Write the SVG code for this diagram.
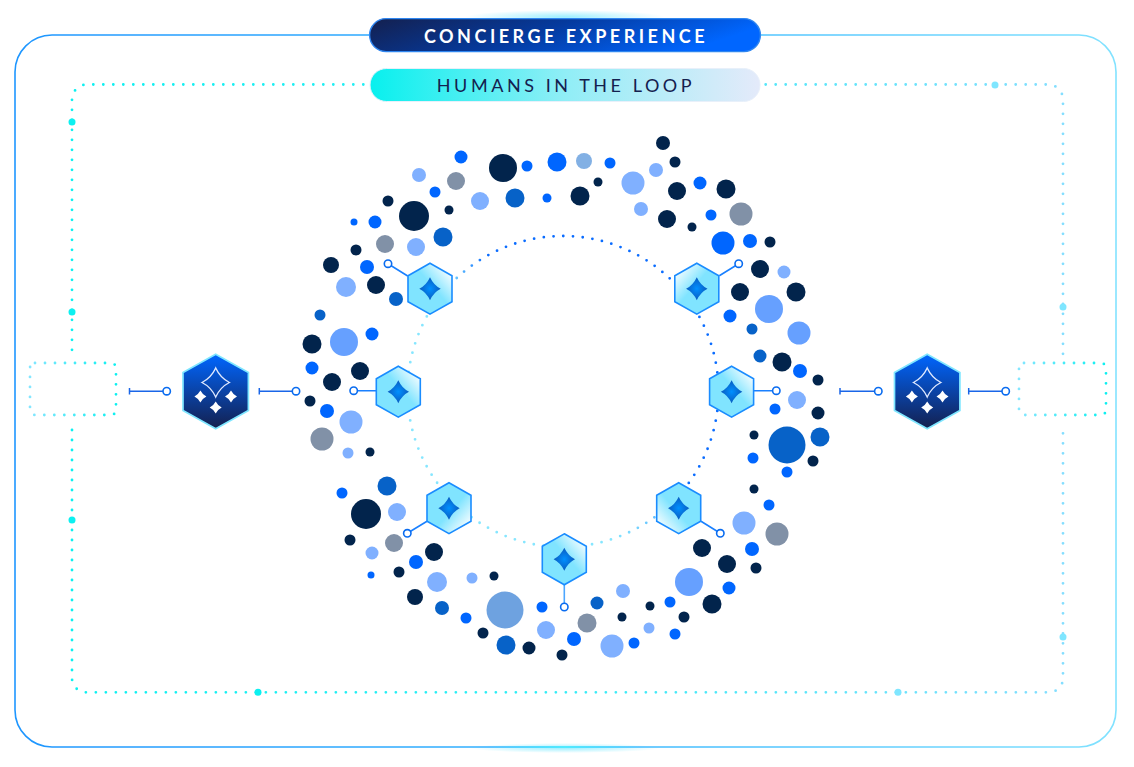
<svg xmlns="http://www.w3.org/2000/svg" width="1134" height="767" viewBox="0 0 1134 767">
<style>
.n{fill:#02244c}.b{fill:#0066ff}.m{fill:#0762c8}.l{fill:#80b0ff}.g{fill:#8191a7}.p{fill:#66a0ff}
.stem{fill:none;stroke:#1a80ff;stroke-width:1.6}
.end{fill:#fff;stroke:#0a6cf0;stroke-width:1.6}
.lnk{fill:none;stroke:#1a66e8;stroke-width:1.5}
.shx{stroke:#1a8cff;stroke-width:1.6}
.lbl{font-family:Lato,"Liberation Sans",sans-serif;font-size:18px;text-anchor:middle}
.dl{fill:none;stroke:url(#dotG);stroke-width:2.8;stroke-linecap:round;stroke-dasharray:0 10}
.bx{fill:none;stroke:url(#boxG);stroke-width:2.8;stroke-linecap:round;stroke-dasharray:0 10}
</style>
<defs>
<linearGradient id="frameG" gradientUnits="userSpaceOnUse" x1="15" y1="0" x2="1116" y2="0"><stop offset="0" stop-color="#1e96ff"/><stop offset=".5" stop-color="#35b4ff"/><stop offset="1" stop-color="#82e2ff"/></linearGradient>
<linearGradient id="dotG" gradientUnits="userSpaceOnUse" x1="72" y1="0" x2="1063" y2="0"><stop offset="0" stop-color="#0cf0f0"/><stop offset=".45" stop-color="#2fedf5"/><stop offset="1" stop-color="#84deff"/></linearGradient>
<linearGradient id="boxG" x1="0" y1="0" x2="1" y2="0"><stop offset="0" stop-color="#84e6ff"/><stop offset="1" stop-color="#0cf0f0"/></linearGradient>
<linearGradient id="ringG" gradientUnits="userSpaceOnUse" x1="450" y1="480" x2="620" y2="340"><stop offset=".4" stop-color="#86e6ff"/><stop offset=".6" stop-color="#66c4ff"/><stop offset=".78" stop-color="#0a6cff"/></linearGradient>
<linearGradient id="pill1" x1="0" y1="0" x2="1" y2="0.25"><stop offset="0" stop-color="#14204e"/><stop offset=".5" stop-color="#053a9e"/><stop offset="1" stop-color="#0066ff"/></linearGradient>
<linearGradient id="pill2" x1="0" y1="0" x2="1" y2="0"><stop offset="0" stop-color="#08f0ee"/><stop offset=".5" stop-color="#90eef6"/><stop offset="1" stop-color="#e4eafa"/></linearGradient>
<radialGradient id="glow"><stop offset="0" stop-color="#7ceaff" stop-opacity=".75"/><stop offset="1" stop-color="#7ceaff" stop-opacity="0"/></radialGradient>
<linearGradient id="glowL" gradientUnits="userSpaceOnUse" x1="490" y1="0" x2="640" y2="0"><stop offset="0" stop-color="#50eaff" stop-opacity="0"/><stop offset=".5" stop-color="#50eaff"/><stop offset="1" stop-color="#50eaff" stop-opacity="0"/></linearGradient>
<linearGradient id="bigG" x1="0" y1="0" x2="0" y2="1"><stop offset="0" stop-color="#0066ff"/><stop offset="1" stop-color="#14204e"/></linearGradient>
<linearGradient id="hA" x1="0" y1="1" x2="1" y2="0"><stop offset=".55" stop-color="#80e4ff"/><stop offset=".92" stop-color="#fff"/></linearGradient>
<linearGradient id="hB" x1="1" y1="1" x2="0" y2="0"><stop offset=".55" stop-color="#80e4ff"/><stop offset=".92" stop-color="#fff"/></linearGradient>
<linearGradient id="hC" x1="0" y1="0" x2="1" y2="1"><stop offset=".55" stop-color="#80e4ff"/><stop offset=".92" stop-color="#fff"/></linearGradient>
<linearGradient id="hD" x1="1" y1="0" x2="0" y2="1"><stop offset=".55" stop-color="#80e4ff"/><stop offset=".92" stop-color="#fff"/></linearGradient>
<radialGradient id="starG"><stop offset="0" stop-color="#0090ff"/><stop offset="1" stop-color="#0a5cc0"/></radialGradient>
<path id="sh" d="M0-25.5L22-13V13L0 25.5L-22 13V-13Z"/>
<path id="ss" fill="url(#starG)" d="M0-11.5Q3.6-3.6 10.7 0Q3.6 3.6 0 11.5Q-3.6 3.6-10.7 0Q-3.6-3.6 0-11.5Z"/>
<g id="big">
<path d="M0-37.3L32.7-19V19L0 37.3L-32.7 19V-19Z" fill="url(#bigG)" stroke="#7fe6ff" stroke-width="1.7"/>
<path d="M0-23.5Q4.6-13.6 13.7-9Q4.6-4.4 0 5.5Q-4.6-4.4-13.7-9Q-4.6-13.6 0-23.5Z" fill="none" stroke="#dfe9ff" stroke-width="1.4"/>
<path fill="#fff" d="M-15.3-1Q-13.2 3.1-9.3 5Q-13.2 6.9-15.3 11Q-17.4 6.9-21.3 5Q-17.4 3.1-15.3-1Z"/>
<path fill="#fff" d="M15.3-1Q17.4 3.1 21.3 5Q17.4 6.9 15.3 11Q13.2 6.9 9.3 5Q13.2 3.1 15.3-1Z"/>
<path fill="#fff" d="M0 10Q2.1 14.1 6 16Q2.1 17.9 0 22Q-2.1 17.9-6 16Q-2.1 14.1 0 10Z"/>
</g>
</defs>
<rect width="1134" height="767" fill="#fff"/>

<ellipse cx="565" cy="17" rx="100" ry="7" fill="url(#glow)"/>
<ellipse cx="565" cy="748" rx="95" ry="5" fill="url(#glow)"/>

<g id="connectors">
<path id="frame" d="M369 35H52A37 37 0 0 0 15 72V710A37 37 0 0 0 52 747H1079A37 37 0 0 0 1116 710V72A37 37 0 0 0 1079 35H761" fill="none" stroke="url(#frameG)" stroke-width="1.6"/>
<path d="M490 747H640" fill="none" stroke="url(#glowL)" stroke-width="1.8"/>
<path class="dl" d="M363.3 84.5H87A15 15 0 0 0 72 100V352.3"/>
<path class="dl" d="M72 430V678A14 14 0 0 0 86 692.3H1049A14 14 0 0 0 1063 678V428.3"/>
<path class="dl" d="M765.7 84.5H1048A15 15 0 0 1 1063 100V356"/>
<g fill="#0cf0f0"><circle cx="72" cy="122" r="3.5"/><circle cx="72" cy="312" r="3.5"/><circle cx="72" cy="520" r="3.5"/><circle cx="258" cy="692.3" r="3.5"/></g>
<g fill="#7fe6ff"><circle cx="898" cy="692.3" r="3.5"/><circle cx="1063" cy="637" r="3.5"/><circle cx="1063" cy="307" r="3.5"/><circle cx="995" cy="85" r="3.5"/></g>
<circle cx="563" cy="391.5" r="155.5" fill="none" stroke="url(#ringG)" stroke-width="2.8" stroke-linecap="round" stroke-dasharray="0 9.77"/>
<path class="stem" d="M407.7 276L388 263.7M719.3 275.7L738.7 263.7M376 390.7H353.7M753.7 390.7H776.3M427 521.3L407.3 533.3M701 521.3L720.3 533.3"/>
<path class="stem" style="stroke:#4da6ff" d="M564.3 585V607"/>
<path class="lnk" d="M129.5 388V394.5M129.5 391.2H163M259.3 388V394.5M259.3 391.2H292.5M840 388V394.5M840 391.2H874.8M968.7 388V394.5M968.7 391.2H1002"/>
<g class="end"><circle cx="388" cy="263.7" r="3.7"/><circle cx="738.7" cy="263.7" r="3.7"/><circle cx="353.7" cy="390.7" r="3.7"/><circle cx="776.3" cy="390.7" r="3.7"/><circle cx="407.3" cy="533.3" r="3.7"/><circle cx="720.3" cy="533.3" r="3.7"/><circle cx="564.3" cy="607" r="3.7"/><circle cx="166.7" cy="391.2" r="3.7"/><circle cx="296" cy="391.2" r="3.7"/><circle cx="878.3" cy="391.2" r="3.7"/><circle cx="1005.7" cy="391.2" r="3.7"/></g>
</g>

<g id="dots">
<g class="n">
<circle cx="503" cy="168" r="14"/><circle cx="388" cy="201" r="5.5"/><circle cx="414" cy="216" r="15"/><circle cx="449" cy="210" r="4.5"/><circle cx="356" cy="250" r="5.5"/><circle cx="331" cy="265" r="8"/><circle cx="376" cy="285" r="9"/>
<circle cx="663" cy="143" r="7"/><circle cx="675" cy="162" r="5.5"/><circle cx="598" cy="182" r="4.5"/><circle cx="677" cy="191" r="9"/><circle cx="726" cy="189" r="9.5"/><circle cx="580" cy="196" r="9.5"/><circle cx="667" cy="219" r="9"/><circle cx="692" cy="227" r="4.5"/><circle cx="770" cy="242" r="5.5"/><circle cx="760" cy="269" r="9"/><circle cx="740" cy="292" r="9"/><circle cx="796" cy="292" r="9.5"/>
<circle cx="782" cy="362" r="9.5"/><circle cx="818" cy="380" r="5.5"/><circle cx="818" cy="413" r="6.5"/><circle cx="754" cy="435" r="4.5"/><circle cx="813" cy="461" r="5.5"/><circle cx="754" cy="489" r="4.5"/><circle cx="702" cy="548" r="9"/><circle cx="727" cy="564" r="9"/><circle cx="756" cy="568" r="5.5"/><circle cx="712" cy="604" r="9.5"/><circle cx="650" cy="606" r="4.5"/><circle cx="684" cy="617" r="5.5"/><circle cx="622" cy="617" r="4.5"/><circle cx="562" cy="655" r="5.5"/>
<circle cx="312" cy="344" r="9.5"/><circle cx="360" cy="371" r="9"/><circle cx="332" cy="382" r="9"/><circle cx="310" cy="401" r="5.5"/><circle cx="370" cy="452" r="4.5"/><circle cx="366" cy="514" r="15"/><circle cx="350" cy="540" r="5.5"/><circle cx="434" cy="552" r="9"/><circle cx="399" cy="572" r="5.5"/><circle cx="494" cy="576" r="4.5"/><circle cx="415" cy="597" r="8"/><circle cx="483" cy="633" r="5.5"/><circle cx="529" cy="648" r="6.5"/>
</g>
<g class="b">
<circle cx="461" cy="157" r="6.5"/><circle cx="527" cy="166" r="5.5"/><circle cx="557" cy="162" r="9.5"/><circle cx="435" cy="192" r="5.5"/><circle cx="547" cy="198" r="4.5"/><circle cx="354" cy="222" r="3.5"/><circle cx="375" cy="222" r="6.5"/><circle cx="367" cy="267" r="7"/>
<circle cx="610" cy="163" r="5.5"/><circle cx="700" cy="183" r="6.5"/><circle cx="711" cy="215" r="5.5"/><circle cx="723" cy="243" r="11.5"/><circle cx="750" cy="241" r="7"/><circle cx="730" cy="316" r="6.5"/>
<circle cx="800" cy="371" r="7"/><circle cx="775" cy="409" r="5.5"/><circle cx="753" cy="458" r="5.5"/><circle cx="787" cy="472" r="5.5"/><circle cx="769" cy="505" r="5.5"/><circle cx="752" cy="549" r="7"/><circle cx="729" cy="588" r="6.5"/><circle cx="670" cy="602" r="5.5"/><circle cx="675" cy="634" r="5.5"/><circle cx="574" cy="639" r="7"/><circle cx="634" cy="643" r="5.5"/>
<circle cx="372" cy="334" r="6.5"/><circle cx="312" cy="368" r="6.5"/><circle cx="327" cy="411" r="7"/><circle cx="342" cy="493" r="5.5"/><circle cx="416" cy="562" r="7"/><circle cx="371" cy="575" r="3.5"/><circle cx="466" cy="618" r="5.5"/><circle cx="542" cy="607" r="5.5"/>
</g>
<g class="m">
<circle cx="515" cy="198" r="9.5"/><circle cx="443" cy="237" r="9.5"/><circle cx="396" cy="299" r="7"/><circle cx="320" cy="315" r="5.5"/><circle cx="752" cy="329" r="5.5"/><circle cx="760" cy="356" r="6.5"/><circle cx="787" cy="445" r="18.5"/><circle cx="820" cy="437" r="9.5"/><circle cx="597" cy="603" r="6.5"/><circle cx="387" cy="486" r="9.5"/><circle cx="442" cy="608" r="7"/><circle cx="506" cy="645" r="9.5"/>
</g>
<g class="l">
<circle cx="419" cy="175" r="7"/><circle cx="480" cy="201" r="9"/><circle cx="416" cy="247" r="9"/><circle cx="346" cy="287" r="10"/><circle cx="656" cy="170" r="7"/><circle cx="633" cy="183" r="11.5"/><circle cx="641" cy="209" r="7"/><circle cx="784" cy="272" r="6.5"/><circle cx="797" cy="400" r="9"/><circle cx="744" cy="523" r="11.5"/><circle cx="623" cy="591" r="7"/><circle cx="649" cy="628" r="5.5"/><circle cx="612" cy="646" r="11.5"/><circle cx="351" cy="422" r="11.5"/><circle cx="348" cy="453" r="5.5"/><circle cx="397" cy="512" r="9"/><circle cx="372" cy="553" r="6.5"/><circle cx="437" cy="582" r="10"/><circle cx="472" cy="578" r="5.5"/><circle cx="546" cy="630" r="9"/>
</g>
<g class="g">
<circle cx="456" cy="181" r="9"/><circle cx="385" cy="244" r="9"/><circle cx="741" cy="214" r="11.5"/><circle cx="777" cy="534" r="11.5"/><circle cx="587" cy="623" r="9.5"/><circle cx="322" cy="439" r="11.5"/><circle cx="394" cy="543" r="9"/>
</g>
<g class="p">
<circle cx="769" cy="309" r="14"/><circle cx="799" cy="333" r="11.5"/><circle cx="689" cy="582" r="14"/><circle cx="344" cy="342" r="14"/>
</g>
<circle cx="584" cy="161" r="8" fill="#82b0e4"/>
<circle cx="505" cy="610" r="18.5" fill="#6ea2e0"/>
</g>

<g id="node-concierge"><rect x="369.6" y="18.6" width="390.8" height="33" rx="16.5" fill="url(#pill1)" stroke="#2f86f0" stroke-width="1.4"/><text class="lbl" x="566" y="42.5" fill="#fff" font-weight="700" letter-spacing="3.5">CONCIERGE EXPERIENCE</text></g>
<g id="node-humans"><rect x="370" y="68.5" width="390" height="33" rx="16.5" fill="url(#pill2)" stroke="#e8f0fa" stroke-width="1"/><text class="lbl" x="566" y="92" fill="#14204e" letter-spacing="3.55">HUMANS IN THE LOOP</text></g>

<g id="box-left"><rect class="bx" x="30" y="363" width="86" height="52" rx="5"/></g>
<g id="box-right"><rect class="bx" x="1019" y="363" width="87" height="52" rx="5"/></g>

<g id="agent-left"><use href="#big" transform="translate(215.7 391.5)"/></g>
<g id="agent-right"><use href="#big" transform="translate(927.2 391.5)"/></g>

<g id="hex-tl"><use href="#sh" class="shx" fill="url(#hA)" transform="translate(430 288.7)"/><use href="#ss" transform="translate(430 288.7)"/></g>
<g id="hex-tr"><use href="#sh" class="shx" fill="url(#hB)" transform="translate(696.8 288.7)"/><use href="#ss" transform="translate(696.8 288.7)"/></g>
<g id="hex-l"><use href="#sh" class="shx" fill="url(#hA)" transform="translate(398.3 391.7)"/><use href="#ss" transform="translate(398.3 391.7)"/></g>
<g id="hex-r"><use href="#sh" class="shx" fill="url(#hA)" transform="translate(731.6 391.7)"/><use href="#ss" transform="translate(731.6 391.7)"/></g>
<g id="hex-bl"><use href="#sh" class="shx" fill="url(#hC)" transform="translate(449 508.2)"/><use href="#ss" transform="translate(449 508.2)"/></g>
<g id="hex-br"><use href="#sh" class="shx" fill="url(#hD)" transform="translate(678.7 508.2)"/><use href="#ss" transform="translate(678.7 508.2)"/></g>
<g id="hex-b"><use href="#sh" class="shx" fill="url(#hA)" transform="translate(564.3 559.3)"/><use href="#ss" transform="translate(564.3 559.3)"/></g>
</svg>
